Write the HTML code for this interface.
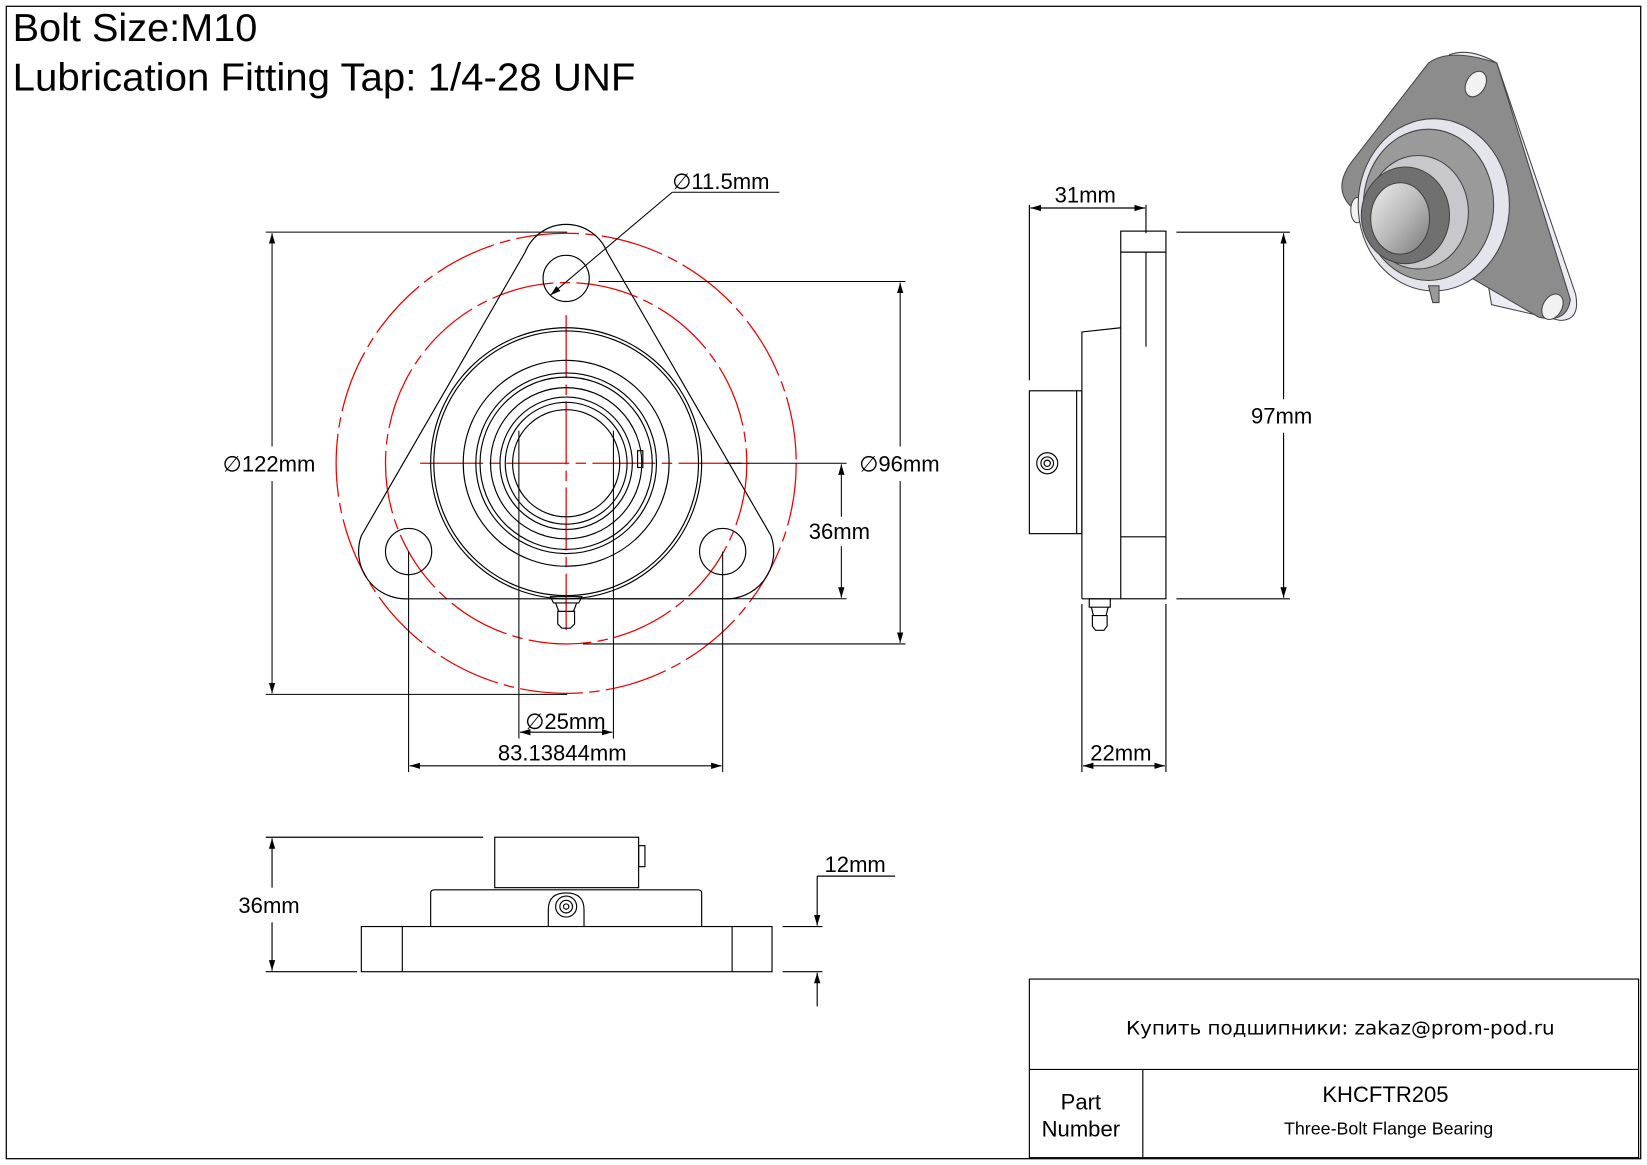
<!DOCTYPE html>
<html><head><meta charset="utf-8"><style>
html,body{margin:0;padding:0;background:#fff}
svg{display:block}
text{font-family:"Liberation Sans",Arial,sans-serif;fill:#000}
</style></head><body>
<svg width="1647" height="1165" viewBox="0 0 1568 1109" preserveAspectRatio="none" xmlns="http://www.w3.org/2000/svg">
<defs>
<marker id="a" viewBox="0 0 10 10" refX="10" refY="5" markerWidth="10" markerHeight="10" orient="auto-start-reverse" markerUnits="userSpaceOnUse"><path d="M0,2 L10,5 L0,8 z" fill="#000"/></marker>
<linearGradient id="g" x1="0" y1="0" x2="1" y2="1"><stop offset="0" stop-color="#eee"/><stop offset="0.5" stop-color="#bbb"/><stop offset="1" stop-color="#777"/></linearGradient>
</defs>
<rect x="6" y="6" width="1556" height="1097" fill="none" stroke="#000" stroke-width="1.2"/>
<text x="12" y="39" font-size="37" textLength="233" lengthAdjust="spacingAndGlyphs">Bolt Size:M10</text>
<text x="12" y="86" font-size="37" textLength="593" lengthAdjust="spacingAndGlyphs">Lubrication Fitting Tap: 1/4-28 UNF</text>

<!-- front view -->
<g fill="none" stroke="#e00" stroke-width="1.2" stroke-dasharray="60,6,10,6">
<circle cx="539" cy="441" r="219"/>
<circle cx="539" cy="441" r="172"/>
<line x1="400" y1="441" x2="713" y2="441"/>
<line x1="539" y1="300" x2="539" y2="600"/>
</g>
<g fill="none" stroke="#000" stroke-width="1.1">
<path d="M500,240 A42,42 0 0 1 578,240 L734,510 A45,45 0 0 1 689,570 L389,570 A45,45 0 0 1 344,510 Z"/>
<circle cx="539" cy="265" r="22"/>
<circle cx="389" cy="525" r="22"/>
<circle cx="688" cy="525" r="22"/>
<circle cx="539" cy="441" r="129"/>
<circle cx="539" cy="441" r="126"/>
<circle cx="539" cy="441" r="98"/>
<circle cx="539" cy="441" r="86"/>
<circle cx="539" cy="441" r="82"/>
<circle cx="539" cy="441" r="72"/>
<circle cx="539" cy="441" r="63"/>
<circle cx="539" cy="441" r="58"/>
<circle cx="539" cy="441" r="51"/>
<rect x="607" y="429" width="5" height="16"/>
<path d="M524,568 h30 l-3,6 h-24 z M529,574 h20 l-3,8 h-14 z M531,582 h16 v12 l-4,4 h-8 l-4,-4 z"/>
</g>
<!-- front dims -->
<g fill="none" stroke="#000" stroke-width="1">
<line x1="253" y1="221" x2="540" y2="221"/>
<line x1="253" y1="661" x2="540" y2="661"/>
<line x1="259" y1="222" x2="259" y2="425" marker-start="url(#a)"/>
<line x1="259" y1="458" x2="259" y2="660" marker-end="url(#a)"/>
<line x1="570" y1="268" x2="862" y2="268"/>
<line x1="555" y1="613" x2="862" y2="613"/>
<line x1="857" y1="269" x2="857" y2="425" marker-start="url(#a)"/>
<line x1="857" y1="458" x2="857" y2="612" marker-end="url(#a)"/>
<line x1="690" y1="441" x2="806" y2="441"/>
<line x1="560" y1="570" x2="806" y2="570"/>
<line x1="801" y1="442" x2="801" y2="492" marker-start="url(#a)"/>
<line x1="801" y1="520" x2="801" y2="569" marker-end="url(#a)"/>
<line x1="389" y1="525" x2="389" y2="735"/>
<line x1="688" y1="525" x2="688" y2="735"/>
<line x1="390" y1="729" x2="687" y2="729" marker-start="url(#a)" marker-end="url(#a)"/>
<line x1="494" y1="410" x2="494" y2="703"/>
<line x1="584" y1="410" x2="584" y2="703"/>
<line x1="495" y1="697" x2="583" y2="697" marker-start="url(#a)" marker-end="url(#a)"/>
<line x1="524" y1="281" x2="640" y2="183" marker-start="url(#a)"/>
<line x1="640" y1="183" x2="742" y2="183"/>
</g>
<text x="212" y="449" font-size="21">∅122mm</text>
<text x="818" y="449" font-size="21">∅96mm</text>
<text x="770" y="513" font-size="21">36mm</text>
<text x="474" y="724" font-size="21">83.13844mm</text>
<text x="500" y="694" font-size="21">∅25mm</text>
<text x="640" y="180" font-size="21">∅11.5mm</text>

<!-- side view -->
<g fill="none" stroke="#000" stroke-width="1.1">
<rect x="1067" y="220" width="43" height="350"/>
<line x1="1067" y1="240" x2="1110" y2="240"/>
<line x1="1067" y1="511" x2="1110" y2="511"/>
<line x1="1091" y1="240" x2="1091" y2="330"/>
<path d="M1030,570 V316 L1067,312"/>
<line x1="1030" y1="570" x2="1067" y2="570"/>
<rect x="980" y="372" width="50" height="136"/>
<line x1="1025" y1="372" x2="1025" y2="508"/>
<circle cx="997" cy="441" r="10"/><circle cx="997" cy="441" r="6"/><circle cx="997" cy="441" r="3"/>
<path d="M1037,570 h20 v8 h-20 z M1039,578 h16 l-2,8 h-12 z M1040,586 h14 v10 l-3,4 h-8 l-3,-4 z"/>
<line x1="980" y1="195" x2="980" y2="362"/>
<line x1="1091" y1="195" x2="1091" y2="222"/>
<line x1="981" y1="198" x2="1090" y2="198" marker-start="url(#a)" marker-end="url(#a)"/>
<line x1="1120" y1="221" x2="1228" y2="221"/>
<line x1="1120" y1="570" x2="1228" y2="570"/>
<line x1="1222" y1="222" x2="1222" y2="380" marker-start="url(#a)"/>
<line x1="1222" y1="412" x2="1222" y2="569" marker-end="url(#a)"/>
<line x1="1030" y1="575" x2="1030" y2="735"/>
<line x1="1110" y1="575" x2="1110" y2="735"/>
<line x1="1031" y1="729" x2="1109" y2="729" marker-start="url(#a)" marker-end="url(#a)"/>
</g>
<text x="1004" y="193" font-size="21">31mm</text>
<text x="1191" y="403" font-size="21">97mm</text>
<text x="1038" y="724" font-size="21">22mm</text>

<!-- bottom view -->
<g fill="none" stroke="#000" stroke-width="1.1">
<rect x="344" y="882" width="391" height="43"/>
<line x1="383" y1="882" x2="383" y2="925"/>
<line x1="697" y1="882" x2="697" y2="925"/>
<path d="M410,882 V850 Q410,847 414,847 H664 Q668,847 668,850 V882"/>
<rect x="471" y="797" width="137" height="48"/>
<rect x="608" y="805" width="6" height="20"/>
<path d="M522,882 V866 Q522,850 539,850 Q556,850 556,866 V882"/>
<circle cx="539" cy="863" r="10"/><circle cx="539" cy="863" r="6"/><circle cx="539" cy="863" r="2.5"/>
<line x1="253" y1="797" x2="460" y2="797"/>
<line x1="253" y1="925" x2="340" y2="925"/>
<line x1="259" y1="798" x2="259" y2="845" marker-start="url(#a)"/>
<line x1="259" y1="878" x2="259" y2="924" marker-end="url(#a)"/>
<line x1="745" y1="882" x2="783" y2="882"/>
<line x1="745" y1="925" x2="783" y2="925"/>
<line x1="778" y1="834" x2="778" y2="881" marker-end="url(#a)"/>
<line x1="778" y1="958" x2="778" y2="926" marker-end="url(#a)"/>
<line x1="778" y1="834" x2="852" y2="834"/>
</g>
<text x="227" y="869" font-size="21">36mm</text>
<text x="785" y="830" font-size="21">12mm</text>

<!-- 3D image -->
<g stroke="#444" stroke-width="1">
<path d="M1380,52 Q1400,45 1425,60 L1500,280 Q1505,305 1485,305 L1420,290 Z" fill="#ececf4"/>
<path d="M1360,60 Q1380,45 1425,60 L1495,285 Q1492,308 1465,302 L1290,200 Q1265,180 1290,150 Z" fill="#8c8c8c"/>
<ellipse cx="1405" cy="80" rx="9" ry="13" fill="#f2f2f2" transform="rotate(30 1405 80)"/>
<ellipse cx="1478" cy="292" rx="9" ry="13" fill="#f2f2f2" transform="rotate(30 1478 292)"/>
<ellipse cx="1292" cy="200" rx="6" ry="12" fill="#f2f2f2"/>
<ellipse cx="1365" cy="195" rx="72" ry="82" fill="#e4e4ec"/>
<ellipse cx="1360" cy="195" rx="62" ry="72" fill="#9a9a9a"/>
<ellipse cx="1350" cy="202" rx="48" ry="54" fill="#c8c8cc"/>
<ellipse cx="1338" cy="205" rx="42" ry="46" fill="#707070"/>
<ellipse cx="1333" cy="208" rx="28" ry="34" fill="url(#g)"/>
<path d="M1360,272 l4,16 l6,0 l0,-16z" fill="#999"/>
</g>

<!-- title block -->
<g fill="none" stroke="#000" stroke-width="1.1">
<rect x="980" y="932" width="580" height="170"/>
<line x1="980" y1="1018" x2="1560" y2="1018"/>
<line x1="1088" y1="1018" x2="1088" y2="1102"/>
</g>
<text x="1276" y="985" font-size="18" text-anchor="middle" style="font-family:'DejaVu Sans',sans-serif" textLength="408" lengthAdjust="spacingAndGlyphs">Купить подшипники: zakaz@prom-pod.ru</text>
<text x="1029" y="1056" font-size="21" text-anchor="middle">Part</text>
<text x="1029" y="1082" font-size="21" text-anchor="middle">Number</text>
<text x="1319" y="1049" font-size="21" text-anchor="middle">KHCFTR205</text>
<text x="1322" y="1080" font-size="17" text-anchor="middle">Three-Bolt Flange Bearing</text>
</svg>
</body></html>
